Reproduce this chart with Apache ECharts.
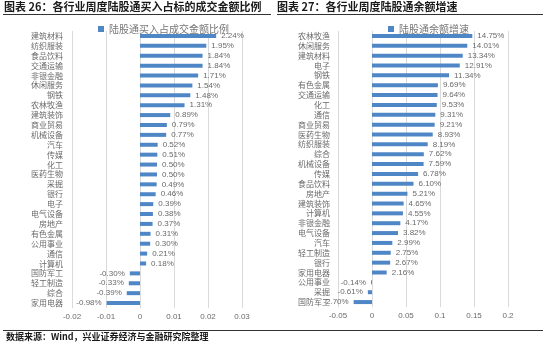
<!DOCTYPE html>
<html>
<head>
<meta charset="utf-8">
<script src="https://cdn.jsdelivr.net/npm/echarts@6/dist/echarts.min.js"></script>
<style>
  html, body { margin: 0; padding: 0; background: #fff; }
  #chart { width: 550px; height: 347px; }
</style>
</head>
<body>
<div id="chart"></div>
<script>
// 图表26：陆股通买入占标的成交金额比例
const buyCategories = ['建筑材料', '纺织服装', '食品饮料', '交通运输', '非银金融', '休闲服务', '钢铁', '农林牧渔',
  '建筑装饰', '商业贸易', '机械设备', '汽车', '传媒', '化工', '医药生物', '采掘', '银行', '电子', '电气设备',
  '房地产', '有色金属', '公用事业', '通信', '计算机', '国防军工', '轻工制造', '综合', '家用电器'];
const buyRatio = [0.0224, 0.0195, 0.0184, 0.0184, 0.0171, 0.0154, 0.0148, 0.0131, 0.0089, 0.0079, 0.0077,
  0.0052, 0.0051, 0.0050, 0.0050, 0.0049, 0.0046, 0.0039, 0.0038, 0.0037, 0.0031, 0.0030, 0.0021, 0.0018,
  -0.0030, -0.0033, -0.0039, -0.0098];
const buyTicks = { min: -0.02, max: 0.03, interval: 0.01 };

// 图表27：陆股通余额增速
const growthCategories = ['农林牧渔', '休闲服务', '建筑材料', '电子', '钢铁', '有色金属', '交通运输', '化工', '通信',
  '商业贸易', '医药生物', '纺织服装', '综合', '机械设备', '传媒', '食品饮料', '房地产', '建筑装饰', '计算机',
  '非银金融', '电气设备', '汽车', '轻工制造', '银行', '家用电器', '公用事业', '采掘', '国防军工'];
const growthRate = [0.1475, 0.1401, 0.1334, 0.1291, 0.1134, 0.0969, 0.0964, 0.0953, 0.0931, 0.0921, 0.0893,
  0.0819, 0.0762, 0.0759, 0.0678, 0.0610, 0.0521, 0.0465, 0.0455, 0.0417, 0.0382, 0.0299, 0.0275, 0.0267,
  0.0216, -0.0014, -0.0061, -0.0270];
const growthTicks = { min: -0.05, max: 0.2, interval: 0.05 };

const BAR = '#4F87C6';
const GREY = '#6A6A6A';
const LIGHT = '#DADADA';
const CJK = '"Noto Sans CJK SC", sans-serif';
const NUM = '"Liberation Sans", Arial, sans-serif';

function pct(v) { return (v * 100).toFixed(2) + '%'; }

function barData(values) {
  return values.map(v => ({
    value: v,
    label: { position: v < 0 ? 'left' : 'right' }
  }));
}

function xAxisFor(idx, ticks, fmt) {
  return {
    gridIndex: idx, type: 'value',
    min: ticks.min, max: ticks.max, interval: ticks.interval,
    axisLine: { show: false }, axisTick: { show: false },
    splitLine: { show: true, lineStyle: { color: LIGHT, width: 1 } },
    axisLabel: { color: GREY, fontSize: 8, fontFamily: NUM, margin: 5, formatter: fmt }
  };
}

function yAxisFor(idx, cats, margin) {
  return {
    gridIndex: idx, type: 'category', data: cats, inverse: true,
    axisLine: { show: false }, axisTick: { show: false },
    axisLabel: { color: GREY, fontSize: 8, fontFamily: CJK, margin: margin, interval: 0 }
  };
}

const chart = echarts.init(document.getElementById('chart'), null, { renderer: 'canvas' });

chart.setOption({
  animation: false,
  backgroundColor: '#fff',
  grid: [
    { left: 72, top: 31, width: 170, height: 277 },
    { left: 338, top: 31, width: 170, height: 276 }
  ],
  legend: [
    {
      data: ['陆股通买入占成交金额比例'], left: 93, top: 19,
      itemWidth: 6, itemHeight: 6, itemGap: 4, icon: 'rect',
      textStyle: { color: '#767676', fontSize: 10, fontFamily: CJK }
    },
    {
      data: ['陆股通余额增速'], left: 383, top: 19,
      itemWidth: 6, itemHeight: 6, itemGap: 4, icon: 'rect',
      textStyle: { color: '#767676', fontSize: 10, fontFamily: CJK }
    }
  ],
  xAxis: [
    xAxisFor(0, buyTicks, v => (v === 0 ? '0' : String(+v.toFixed(2)))),
    xAxisFor(1, growthTicks, v => (v === 0 ? '0' : String(+v.toFixed(2))))
  ],
  yAxis: [
    yAxisFor(0, buyCategories, 9),
    yAxisFor(1, growthCategories, 8)
  ],
  series: [
    {
      name: '陆股通买入占成交金额比例', type: 'bar',
      xAxisIndex: 0, yAxisIndex: 0,
      data: barData(buyRatio), barWidth: 4,
      itemStyle: { color: BAR },
      label: { show: true, distance: 5, color: GREY, fontSize: 8, fontFamily: NUM, formatter: p => pct(p.value) }
    },
    {
      name: '陆股通余额增速', type: 'bar',
      xAxisIndex: 1, yAxisIndex: 1,
      data: barData(growthRate), barWidth: 4,
      itemStyle: { color: BAR },
      label: { show: true, distance: 5, color: GREY, fontSize: 8, fontFamily: NUM, formatter: p => pct(p.value) }
    }
  ],
  graphic: [
    {
      type: 'text', left: 4, top: 1,
      style: { text: '图表 26：各行业周度陆股通买入占标的成交金额比例', fill: '#1A1A1A',
        font: 'bold 11px "Noto Sans CJK SC", sans-serif' }
    },
    {
      type: 'text', left: 277, top: 1,
      style: { text: '图表 27：各行业周度陆股通余额增速', fill: '#1A1A1A',
        font: 'bold 11px "Noto Sans CJK SC", sans-serif' }
    },
    {
      type: 'line', shape: { x1: 3, y1: 14.5, x2: 271, y2: 14.5 },
      style: { stroke: '#333', lineWidth: 1 }
    },
    {
      type: 'line', shape: { x1: 277, y1: 14.5, x2: 543, y2: 14.5 },
      style: { stroke: '#333', lineWidth: 1 }
    },
    {
      type: 'line', shape: { x1: 3, y1: 330.5, x2: 543, y2: 330.5 },
      style: { stroke: '#333', lineWidth: 1 }
    },
    {
      type: 'text', left: 6, top: 332,
      style: { text: '数据来源：Wind，兴业证券经济与金融研究院整理', fill: '#1A1A1A',
        font: 'bold 9px "Noto Sans CJK SC", sans-serif' }
    }
  ]
});
</script>
</body>
</html>
